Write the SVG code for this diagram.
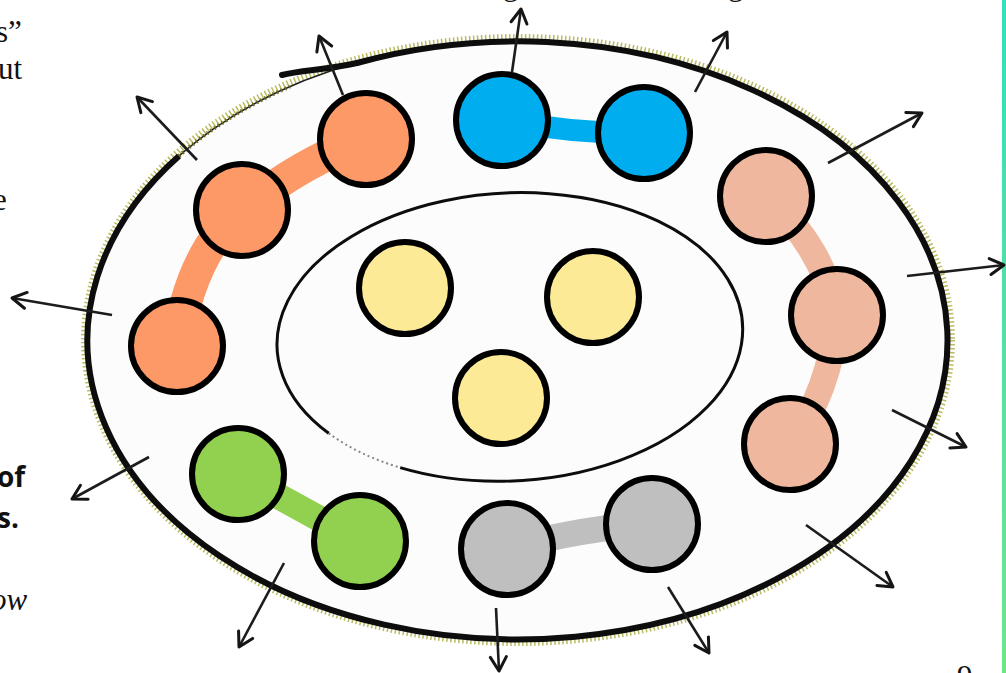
<svg xmlns="http://www.w3.org/2000/svg" width="1006" height="673" viewBox="0 0 1006 673">
<defs>
<linearGradient id="bar" x1="0" y1="0" x2="0" y2="1">
<stop offset="0" stop-color="#36DDBE"/>
<stop offset="1" stop-color="#6AE889"/>
</linearGradient>
<marker id="ah" markerUnits="userSpaceOnUse" markerWidth="22" markerHeight="22" viewBox="0 0 22 22" refX="19" refY="11" orient="auto">
<path d="M5,3 L19,11 L5,19" fill="none" stroke="#151515" stroke-width="3" stroke-linecap="round" stroke-linejoin="round"/>
</marker>
<style>
.node{stroke:#000;stroke-width:6}
.or{fill:#FC9966}.bl{fill:#00AEEF}.sa{fill:#EFB79E}.ye{fill:#FCEA97}.gr{fill:#92D050}.gy{fill:#BFBFBF}
.band{fill:none;stroke-linecap:round}
.arr{stroke:#1c1c1c;stroke-width:2.6;fill:none;marker-end:url(#ah)}
.serif{font-family:"Liberation Serif",serif;font-size:31px;fill:#111}
.bold{font-family:"Open Sans","Liberation Sans",sans-serif;font-weight:bold;font-size:28px;fill:#111}
</style>
</defs>
<rect width="1006" height="673" fill="#fff"/>
<rect x="1002" y="0" width="4" height="673" fill="url(#bar)"/>

<g id="page-text">
<text class="serif" x="-4" y="42">s”</text>
<text class="serif" x="-2" y="79">ut</text>
<text class="serif" x="-7" y="210">e</text>
<text class="bold" x="-3" y="487">of</text>
<text class="bold" x="-3" y="528">s.</text>
<text class="serif" x="-9" y="610" font-style="italic">ow</text>
<text class="serif" x="503" y="-5">g</text>
<text class="serif" x="728" y="-5">g</text>
<text class="serif" x="957" y="687">9</text>
</g>

<g id="outer-boundary">
<ellipse cx="518" cy="340" rx="433" ry="302" fill="none" stroke="#a3a32a" stroke-width="8" stroke-dasharray="1.5 2.5" opacity="0.75"/>
<ellipse cx="518" cy="340" rx="430" ry="299" fill="#fcfcfd" stroke="#222" stroke-width="1.5"/>
<path d="M 357,63 A 430 299 0 1 1 179,156" fill="none" stroke="#0d0d0d" stroke-width="6"/>
<path d="M 282,75 C 300,70 327,70 357,63" fill="none" stroke="#0d0d0d" stroke-width="6" stroke-linecap="round"/>
<path d="M 179,156 A 430 299 0 0 1 290,86.5" fill="none" stroke="#6b6b1a" stroke-width="4" stroke-dasharray="1.5 3"/>
</g>

<g id="inner-boundary" transform="rotate(-3 510 337)">
<path d="M 393.5,461.7 A 233 144 0 1 0 323.9,423.7" fill="none" stroke="#0d0d0d" stroke-width="3"/>
<path d="M 323.9,423.7 A 233 144 0 0 0 393.5,461.7" fill="none" stroke="#555" stroke-width="2" stroke-dasharray="2 3" opacity="0.7"/>
</g>

<g id="connectors">
<path class="band" d="M 177,346 C 185,290 205,240 242,210 S 320,155 366,139" stroke="#FC9966" stroke-width="32"/>
<path class="band" d="M 502,120 Q 575,134 644,133" stroke="#00AEEF" stroke-width="22"/>
<path class="band" d="M 766,196 Q 822,245 837,315 Q 830,392 790,444" stroke="#EFB79E" stroke-width="26"/>
<path class="band" d="M 238,474 L 360,541" stroke="#92D050" stroke-width="26"/>
<path class="band" d="M 507,549 Q 580,528 652,524" stroke="#BFBFBF" stroke-width="26"/>
<path class="arr" d="M 343,95 L 319,36"/>
<path class="arr" d="M 197,160 L 137,97"/>
<path class="arr" d="M 112,315 L 12,298"/>
<path class="arr" d="M 149,457 L 72,499"/>
<path class="arr" d="M 284,563 L 239,647"/>
<path class="arr" d="M 496,608 L 499,671"/>
<path class="arr" d="M 668,587 L 709,653"/>
<path class="arr" d="M 806,525 L 893,587"/>
<path class="arr" d="M 892,410 L 966,447"/>
<path class="arr" d="M 907,276 L 1004,265"/>
<path class="arr" d="M 828,163 L 922,113"/>
<path class="arr" d="M 695,92 L 727,32"/>
<path class="arr" d="M 512,72 L 521,9"/>
</g>

<g id="orange-1"><circle class="node or" cx="366" cy="139" r="46"/></g>
<g id="orange-2"><circle class="node or" cx="242" cy="210" r="46"/></g>
<g id="orange-3"><circle class="node or" cx="177" cy="346" r="46"/></g>
<g id="blue-1"><circle class="node bl" cx="502" cy="120" r="46"/></g>
<g id="blue-2"><circle class="node bl" cx="644" cy="133" r="46"/></g>
<g id="salmon-1"><circle class="node sa" cx="766" cy="196" r="46"/></g>
<g id="salmon-2"><circle class="node sa" cx="837" cy="315" r="46"/></g>
<g id="salmon-3"><circle class="node sa" cx="790" cy="444" r="46"/></g>
<g id="yellow-1"><circle class="node ye" cx="405" cy="288" r="46"/></g>
<g id="yellow-2"><circle class="node ye" cx="593" cy="297" r="46"/></g>
<g id="yellow-3"><circle class="node ye" cx="501" cy="398" r="46"/></g>
<g id="green-1"><circle class="node gr" cx="238" cy="474" r="46"/></g>
<g id="green-2"><circle class="node gr" cx="360" cy="541" r="46"/></g>
<g id="gray-1"><circle class="node gy" cx="507" cy="549" r="46"/></g>
<g id="gray-2"><circle class="node gy" cx="652" cy="524" r="46"/></g>
</svg>
